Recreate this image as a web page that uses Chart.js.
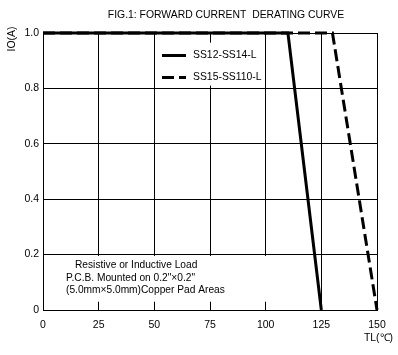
<!DOCTYPE html>
<html><head><meta charset="utf-8">
<script src="https://cdn.jsdelivr.net/npm/chart.js@4"></script>
<style>html,body{margin:0;padding:0;background:#fff}#wrap{width:398px;height:355px}</style>
</head><body><div id="wrap"><canvas id="c" width="398" height="355"></canvas></div>
<script>
const titleText = 'FIG.1: FORWARD CURRENT  DERATING CURVE';
const yAxisTitle = 'IO(A)';
const xAxisTitle = 'TL(\u2103)';
const xTicks = [0, 25, 50, 75, 100, 125, 150];
const yTicks = [0, 0.2, 0.4, 0.6, 0.8, 1.0];
const seriesNames = ['SS12-SS14-L', 'SS15-SS110-L'];
const tempsA = [0, 110, 125];
const currentA = [1.0, 1.0, 0];
const tempsB = [0, 130, 150];
const currentB = [1.0, 1.0, 0];
const noteLines = ['Resistive or Inductive Load', 'P.C.B. Mounted on 0.2"\u00d70.2"', '(5.0mm\u00d75.0mm)Copper Pad Areas'];

const FONT = '"Liberation Sans", Arial, sans-serif';
const toPts = (xs, ys) => xs.map((x, i) => ({x: x, y: ys[i]}));

const overlay = {
  id: 'overlay',
  beforeDatasetsDraw(chart) {
    const {ctx, scales: {x, y}} = chart;
    ctx.save();
    ctx.fillStyle = '#fff';
    ctx.fillRect(x.getPixelForValue(52), y.getPixelForValue(0.965), x.getPixelForValue(98) - x.getPixelForValue(52), y.getPixelForValue(0.81) - y.getPixelForValue(0.965));
    ctx.fillRect(x.getPixelForValue(2), y.getPixelForValue(0.195), x.getPixelForValue(100.5) - x.getPixelForValue(2), y.getPixelForValue(0.03) - y.getPixelForValue(0.195));
    ctx.restore();
  },
  afterDraw(chart) {
    const {ctx, scales: {x, y}} = chart;
    ctx.save();
    ctx.fillStyle = '#000';
    ctx.textBaseline = 'middle';
    ctx.font = '10.4px ' + FONT;
    ctx.textAlign = 'center';
    ctx.fillText(titleText, 226, 15);
    ctx.textAlign = 'right';
    ctx.fillText(xAxisTitle, 393, 338);
    ctx.save();
    ctx.translate(12, 39);
    ctx.rotate(-Math.PI / 2);
    ctx.textAlign = 'center';
    ctx.fillText(yAxisTitle, 0, 0);
    ctx.restore();
    const rows = [y.getPixelForValue(0.92), y.getPixelForValue(0.84)];
    chart.data.datasets.forEach((ds, i) => {
      const yy = Math.round(rows[i]) + 0.5;
      ctx.save();
      ctx.strokeStyle = ds.borderColor;
      ctx.lineWidth = ds.borderWidth;
      ctx.setLineDash(ds.borderDash || []);
      ctx.beginPath();
      ctx.moveTo(162, yy);
      ctx.lineTo(186, yy);
      ctx.stroke();
      ctx.restore();
      ctx.textAlign = 'left';
      ctx.fillText(ds.label, 193, yy);
    });
    ctx.font = '10.2px ' + FONT;
    ctx.textAlign = 'left';
    ctx.fillText(noteLines[0], 75, 265);
    ctx.fillText(noteLines[1], 66, 278);
    ctx.fillText(noteLines[2], 66, 290);
    ctx.restore();
  }
};

new Chart(document.getElementById('c'), {
  type: 'line',
  data: {
    datasets: [
      {label: seriesNames[0], data: toPts(tempsA, currentA), borderColor: '#000', borderWidth: 3, pointRadius: 0, fill: false, tension: 0, clip: false},
      {label: seriesNames[1], data: toPts(tempsB, currentB), borderColor: '#000', borderWidth: 3, borderDash: [12, 5], pointRadius: 0, fill: false, tension: 0, clip: false}
    ]
  },
  options: {
    responsive: false,
    animation: false,
    events: [],
    layout: {padding: {left: 0, right: 21, top: 33, bottom: 0}},
    plugins: {legend: {display: false}, title: {display: false}, tooltip: {enabled: false}},
    scales: {
      x: {
        type: 'linear', min: 0, max: 150,
        afterBuildTicks: s => { s.ticks = xTicks.map(v => ({value: v})); },
        afterFit: s => { s.height = 45; },
        grid: {color: '#000', lineWidth: 1, drawTicks: false},
        border: {color: '#000', width: 1},
        ticks: {color: '#000', font: {family: FONT, size: 10.5}, padding: 9, maxRotation: 0, autoSkip: false, callback: v => String(v)}
      },
      y: {
        type: 'linear', min: 0, max: 1,
        afterBuildTicks: s => { s.ticks = yTicks.map(v => ({value: v})); },
        afterFit: s => { s.width = 43; },
        grid: {color: '#000', lineWidth: 1, drawTicks: false},
        border: {color: '#000', width: 1},
        ticks: {color: '#000', font: {family: FONT, size: 10.5}, padding: 4, autoSkip: false, callback: v => v === 0 ? '0' : v.toFixed(1)}
      }
    }
  },
  plugins: [overlay]
});
</script></body></html>
